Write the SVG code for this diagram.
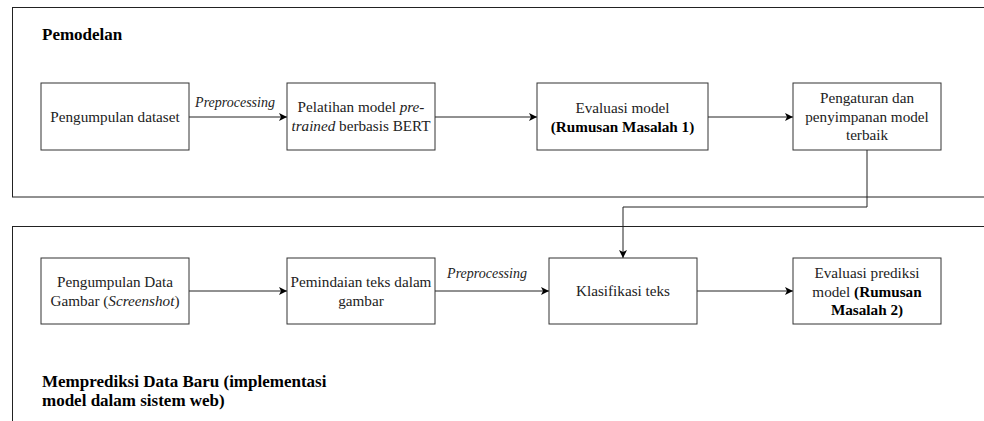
<svg xmlns="http://www.w3.org/2000/svg" width="984" height="421" viewBox="0 0 984 421">
<style>
.frame{fill:none;stroke:#222;stroke-width:1}
.box{fill:#fff;stroke:#333;stroke-width:1}
.t{font-family:"Liberation Serif","Times New Roman",serif;font-size:15.2px;fill:#222;text-anchor:middle}
.title{font-family:"Liberation Serif","Times New Roman",serif;font-size:17px;font-weight:bold;fill:#000}
.lbl{font-family:"Liberation Serif","Times New Roman",serif;font-size:14px;font-style:italic;fill:#222;text-anchor:middle}
.c{fill:none;stroke:#222;stroke-width:1}
.b{font-weight:bold;fill:#000}
.i{font-style:italic}
</style>
<defs>
<marker id="ah" viewBox="0 0 10 10" refX="10" refY="5" markerWidth="8" markerHeight="8" markerUnits="userSpaceOnUse" orient="auto">
<path d="M0,0 L10,5 L0,10 L2.5,5 Z" fill="#000"/>
</marker>
</defs>
<rect width="984" height="421" fill="#fff"/>
<g id="frame-pemodelan">
<rect class="frame" x="12.5" y="7.5" width="980" height="189.5"/>
<text class="title" x="42" y="40">Pemodelan</text>
</g>
<g id="frame-prediksi">
<rect class="frame" x="12.5" y="226.5" width="980" height="210"/>
<text class="title" x="42" y="387">Memprediksi Data Baru (implementasi</text>
<text class="title" x="42" y="406">model dalam sistem web)</text>
</g>
<g id="connectors">
<path class="c" d="M189,117 H287" marker-end="url(#ah)"/>
<text class="lbl" x="235" y="107">Preprocessing</text>
<path class="c" d="M435,117 H537" marker-end="url(#ah)"/>
<path class="c" d="M708,117 H793" marker-end="url(#ah)"/>
<path class="c" d="M867,150 V207 H623 V258" marker-end="url(#ah)"/>
<path class="c" d="M189,291 H287" marker-end="url(#ah)"/>
<path class="c" d="M435,291 H549" marker-end="url(#ah)"/>
<text class="lbl" x="487" y="278">Preprocessing</text>
<path class="c" d="M697,291 H793" marker-end="url(#ah)"/>
</g>
<g id="n1">
<rect class="box" x="41" y="83" width="148" height="67"/>
<text class="t" x="115" y="122">Pengumpulan dataset</text>
</g>
<g id="n2">
<rect class="box" x="287" y="83" width="148" height="67"/>
<text class="t" x="361" y="112">Pelatihan model <tspan class="i">pre-</tspan></text>
<text class="t" x="361" y="130.5"><tspan class="i">trained</tspan> berbasis BERT</text>
</g>
<g id="n3">
<rect class="box" x="537" y="83" width="171" height="67"/>
<text class="t" x="622.5" y="113">Evaluasi model</text>
<text class="t b" x="622.5" y="131.5">(Rumusan Masalah 1)</text>
</g>
<g id="n4">
<rect class="box" x="793" y="83" width="148" height="67"/>
<text class="t" x="867" y="103">Pengaturan dan</text>
<text class="t" x="867" y="121.5">penyimpanan model</text>
<text class="t" x="867" y="140">terbaik</text>
</g>
<g id="n5">
<rect class="box" x="41" y="258" width="148" height="66"/>
<text class="t" x="115" y="287">Pengumpulan Data</text>
<text class="t" x="115" y="305.5">Gambar (<tspan class="i">Screenshot</tspan>)</text>
</g>
<g id="n6">
<rect class="box" x="287" y="258" width="148" height="66"/>
<text class="t" x="361" y="287">Pemindaian teks dalam</text>
<text class="t" x="361" y="305.5">gambar</text>
</g>
<g id="n7">
<rect class="box" x="549" y="258" width="148" height="66"/>
<text class="t" x="623" y="296">Klasifikasi teks</text>
</g>
<g id="n8">
<rect class="box" x="793" y="258" width="148" height="66"/>
<text class="t" x="867" y="278">Evaluasi prediksi</text>
<text class="t" x="867" y="296.5">model <tspan class="b">(Rumusan</tspan></text>
<text class="t b" x="867" y="315">Masalah 2)</text>
</g>
</svg>
